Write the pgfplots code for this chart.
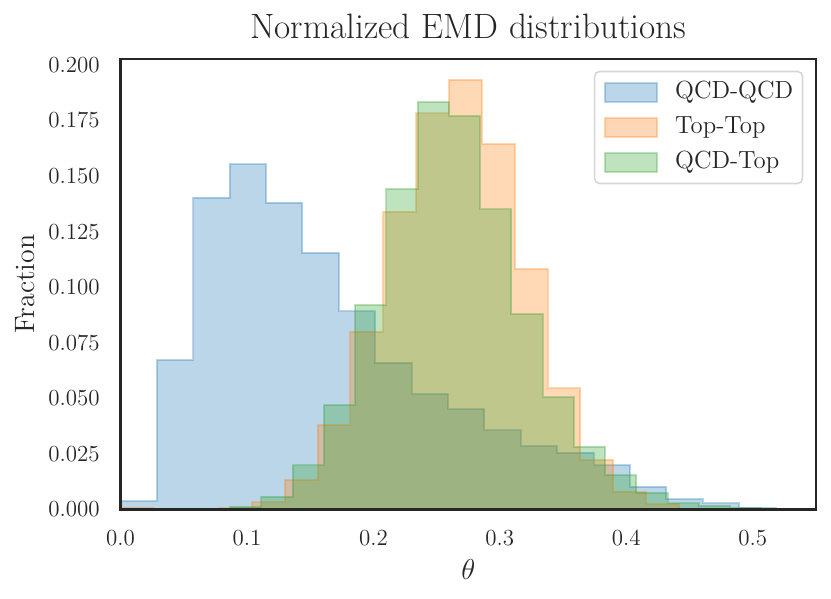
\documentclass[border=0pt]{standalone}
\usepackage{fontspec}
\usepackage{pgfplots}
\pgfplotsset{compat=1.18}
\definecolor{C0}{HTML}{1F77B4}
\definecolor{C1}{HTML}{FF7F0E}
\definecolor{C2}{HTML}{2CA02C}
\definecolor{txt}{gray}{0.15}
\begin{document}
\begin{tikzpicture}
\begin{axis}[
  scale only axis, width=347.75pt, height=225.25pt,
  xmin=0, xmax=0.55, ymin=0, ymax=0.20265,
  axis on top=true,
  axis line style={draw=txt, line width=1.25pt},
  major tick length=0pt,
  xtick={0,0.1,0.2,0.3,0.4,0.5},
  xticklabels={0.0,0.1,0.2,0.3,0.4,0.5},
  ytick={0,0.025,0.05,0.075,0.1,0.125,0.15,0.175,0.2},
  yticklabels={0.000,0.025,0.050,0.075,0.100,0.125,0.150,0.175,0.200},
  tick label style={font=\fontsize{11.5}{13}\selectfont, text=txt, inner sep=0pt},
  xticklabel style={anchor=north, yshift=-10pt},
  yticklabel style={anchor=east, xshift=-10.25pt},
  title={Normalized EMD distributions},
  title style={font=\fontsize{17.6}{21}\selectfont, text=txt, at={(axis description cs:0.5,1)}, anchor=base, yshift=4pt, inner sep=0pt},
  xlabel={$\theta$},
  ylabel={Fraction},
  xlabel style={font=\fontsize{14}{17}\selectfont, text=txt, inner sep=0pt, at={(axis description cs:0.5,0)}, anchor=center, yshift=-30.25pt},
  ylabel style={font=\fontsize{14}{17}\selectfont, text=txt, inner sep=0pt, at={([xshift=-47.75pt]axis description cs:0,0.5)}, anchor=center, rotate=0},
  legend cell align=left,
  legend image code/.code={\draw[#1, sharp corners] (0pt,-4.75pt) rectangle (25.85pt,4.75pt); \path (34.6pt,0pt);},
  legend style={at={(axis description cs:1,1)}, anchor=north east, xshift=-6.35pt, yshift=-5.85pt,
    draw=black!16, rounded corners=2.5pt, fill=white, fill opacity=0.8, text opacity=1, line width=0.8pt,
    font=\fontsize{12.4}{14}\selectfont, text=txt,
    nodes={inner sep=0pt, text height=8.5pt, text depth=2.5pt},
    inner xsep=4.65pt, inner ysep=5pt, row sep=6.5pt},
]
\addplot[const plot, draw=C0, fill=C0, fill opacity=0.3, draw opacity=0.3, line width=1pt] coordinates {
(0,0.0038) (0.02878,0.0672) (0.05756,0.1403) (0.08633,0.1554) (0.11511,0.1380) (0.14389,0.1155) (0.17267,0.0891) (0.20144,0.0661) (0.23022,0.0520) (0.25900,0.0452) (0.28778,0.0356) (0.31656,0.0286) (0.34533,0.0256) (0.37411,0.0200) (0.40289,0.0103) (0.43167,0.0047) (0.46044,0.0028) (0.48922,0.0008) (0.51800,0.0008)
} \closedcycle;
\addlegendentry{QCD-QCD}
\addplot[const plot, draw=C1, fill=C1, fill opacity=0.3, draw opacity=0.3, line width=1pt] coordinates {
(0,0.0008) (0.02598,0) (0.05196,0) (0.07795,0.0005) (0.10393,0.0032) (0.12991,0.0133) (0.15589,0.0379) (0.18187,0.0800) (0.20785,0.1340) (0.23384,0.1782) (0.25982,0.1932) (0.28580,0.1644) (0.31178,0.1082) (0.33776,0.0545) (0.36375,0.0223) (0.38973,0.0080) (0.41571,0.0025) (0.44169,0.0025)
} \closedcycle;
\addlegendentry{Top-Top}
\addplot[const plot, draw=C2, fill=C2, fill opacity=0.3, draw opacity=0.3, line width=1pt] coordinates {
(0.0866,0.0013) (0.11132,0.0058) (0.13605,0.0199) (0.16077,0.0470) (0.18550,0.0920) (0.21022,0.1442) (0.23494,0.1834) (0.25967,0.1771) (0.28439,0.1350) (0.30912,0.0879) (0.33384,0.0505) (0.35856,0.0283) (0.38329,0.0155) (0.40801,0.0076) (0.43274,0.0028) (0.45746,0.0016) (0.48218,0.0008) (0.50690,0.0008)
} \closedcycle;
\addlegendentry{QCD-Top}
\end{axis}
\path[use as bounding box] (-60.25pt,-44.75pt) rectangle (355.25pt,254.75pt);
\end{tikzpicture}
\end{document}
